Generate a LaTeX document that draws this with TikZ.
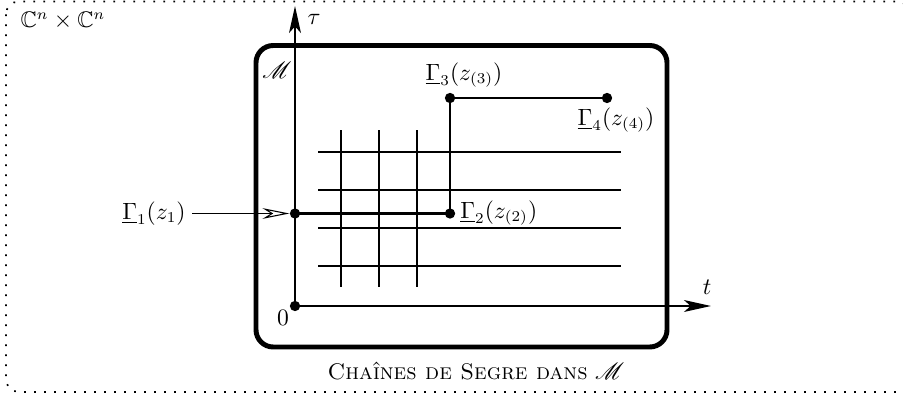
\documentclass[tikz,border=0pt]{standalone}
\usepackage{fontspec}
\usepackage{amssymb}
\usepackage{mathrsfs}
\usetikzlibrary{arrows.meta}
\begin{document}
\begin{tikzpicture}[x=0.465pt,y=-0.465pt,
  dotpt/.style={circle,fill=black,inner sep=0pt,minimum size=4.8pt},
  axis/.style={line width=1pt,-{Stealth[length=12.5pt,width=5.5pt,inset=3pt]}},
  chain/.style={line width=1pt},
  gridline/.style={line width=0.5pt},
  pointer/.style={line width=0.5pt,-{Stealth[open,length=12.5pt,width=5pt,inset=4pt]}},
  lab/.style={inner sep=0pt,font=\fontsize{10.5pt}{12.6pt}\selectfont}]
\useasboundingbox (0,0) rectangle (903,396);
% outer dotted frame
\draw[line width=0.8pt,dash pattern=on 0.8pt off 3.85pt,rounded corners=6pt] (6,1.5) rectangle (910,392);
\node[lab] (space) at (63,21) {$\mathbb{C}^n\times\mathbb{C}^n$};
% thick frame M
\draw[line width=2.3pt,rounded corners=8pt] (256,45.5) rectangle (667,347);
\node[lab] (mlab) at (277,70) {$\mathscr{M}$};
% grid
\foreach \yy in {152,190,228,266} \draw[gridline] (318,\yy) -- (621,\yy);
\foreach \xx in {341,379,417} \draw[gridline] (\xx,130) -- (\xx,287);
% points
\node[dotpt] (o) at (295,306) {};
\node[dotpt] (g1) at (295,213.5) {};
\node[dotpt] (g2) at (450,213.5) {};
\node[dotpt] (g3) at (450,98) {};
\node[dotpt] (g4) at (607,98) {};
% axes
\coordinate (tautip) at (295,6);
\coordinate (ttip) at (711,306);
\draw[axis] (o.center) -- (tautip);
\draw[axis] (o.center) -- (ttip);
\node[lab] (taulab) at (314,19) {$\tau$};
\node[lab] (tlab) at (707,287) {$t$};
\node[lab] (zero) at (283,318) {$0$};
% chain
\draw[chain] (g1.center) -- (g2.center) -- (g3.center) -- (g4.center);
% labels
\node[lab,anchor=east] (l1) at (186,213.5) {$\underline{\Gamma}_1(z_1)$};
\draw[pointer] (l1.east) ++(6,0) -- (g1);
\node[lab,anchor=west] (l2) at (460,213) {$\underline{\Gamma}_2(z_{(2)})$};
\node[lab] (l3) at (464,75) {$\underline{\Gamma}_3(z_{(3)})$};
\node[lab] (l4) at (616,120) {$\underline{\Gamma}_4(z_{(4)})$};
\node[lab] (cap) at (476,371) {\textsc{Chaînes de Segre dans} $\mathscr{M}$};
\end{tikzpicture}
\end{document}
